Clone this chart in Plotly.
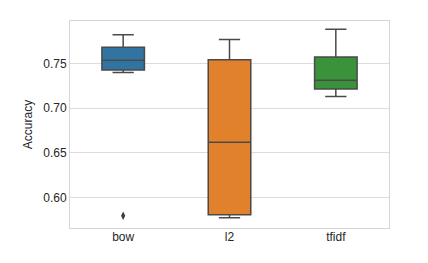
import plotly.graph_objects as go

categories = ["bow", "l2", "tfidf"]
lower_whisker = [0.7396, 0.5774, 0.7129]
q1 = [0.7426, 0.5807, 0.7214]
median = [0.7533, 0.6618, 0.7311]
q3 = [0.7680, 0.7540, 0.7570]
upper_whisker = [0.7820, 0.7767, 0.7881]
outlier_cat = ["bow"]
outlier_val = [0.5796]
colors = ["#3274a1", "#e1812c", "#3a923a"]

fig = go.Figure()
for i, c in enumerate(categories):
    fig.add_trace(go.Box(
        x=[c], q1=[q1[i]], median=[median[i]], q3=[q3[i]],
        lowerfence=[lower_whisker[i]], upperfence=[upper_whisker[i]],
        fillcolor=colors[i], line=dict(color="#4a4a4a", width=1.5),
        width=0.4, whiskerwidth=0.5, boxpoints=False, showlegend=False,
        hoverinfo="skip",
    ))
fig.add_trace(go.Scatter(
    x=outlier_cat, y=outlier_val, mode="markers",
    marker=dict(symbol="diamond-tall", size=6, color="#3c3c3c"),
    showlegend=False,
))

fig.update_layout(
    width=428, height=263,
    margin=dict(l=70, r=39, t=21, b=35),
    paper_bgcolor="white", plot_bgcolor="white",
    boxmode="overlay",
    font=dict(family="Liberation Sans, Arial", size=12, color="#262626"),
    xaxis=dict(
        type="category", categoryorder="array", categoryarray=categories,
        range=[-0.5, 2.5], showgrid=False, showline=True, linecolor="#d6d6d6",
        linewidth=1, mirror=True, ticks="", ticklen=0, zeroline=False,
        tickfont=dict(size=12, color="#262626"), ticklabelstandoff=-2,
    ),
    yaxis=dict(
        range=[0.5659, 0.7973], tickvals=[0.60, 0.65, 0.70, 0.75],
        ticktext=["0.60", "0.65", "0.70", "0.75"],
        showgrid=True, gridcolor="#dcdcdc", gridwidth=1,
        showline=True, linecolor="#d6d6d6", linewidth=1, mirror=True,
        ticks="", zeroline=False,
        title=dict(text="Accuracy", font=dict(size=12, color="#262626"), standoff=8),
        tickfont=dict(size=12, color="#262626"),
    ),
)
fig.write_html("out.html")
